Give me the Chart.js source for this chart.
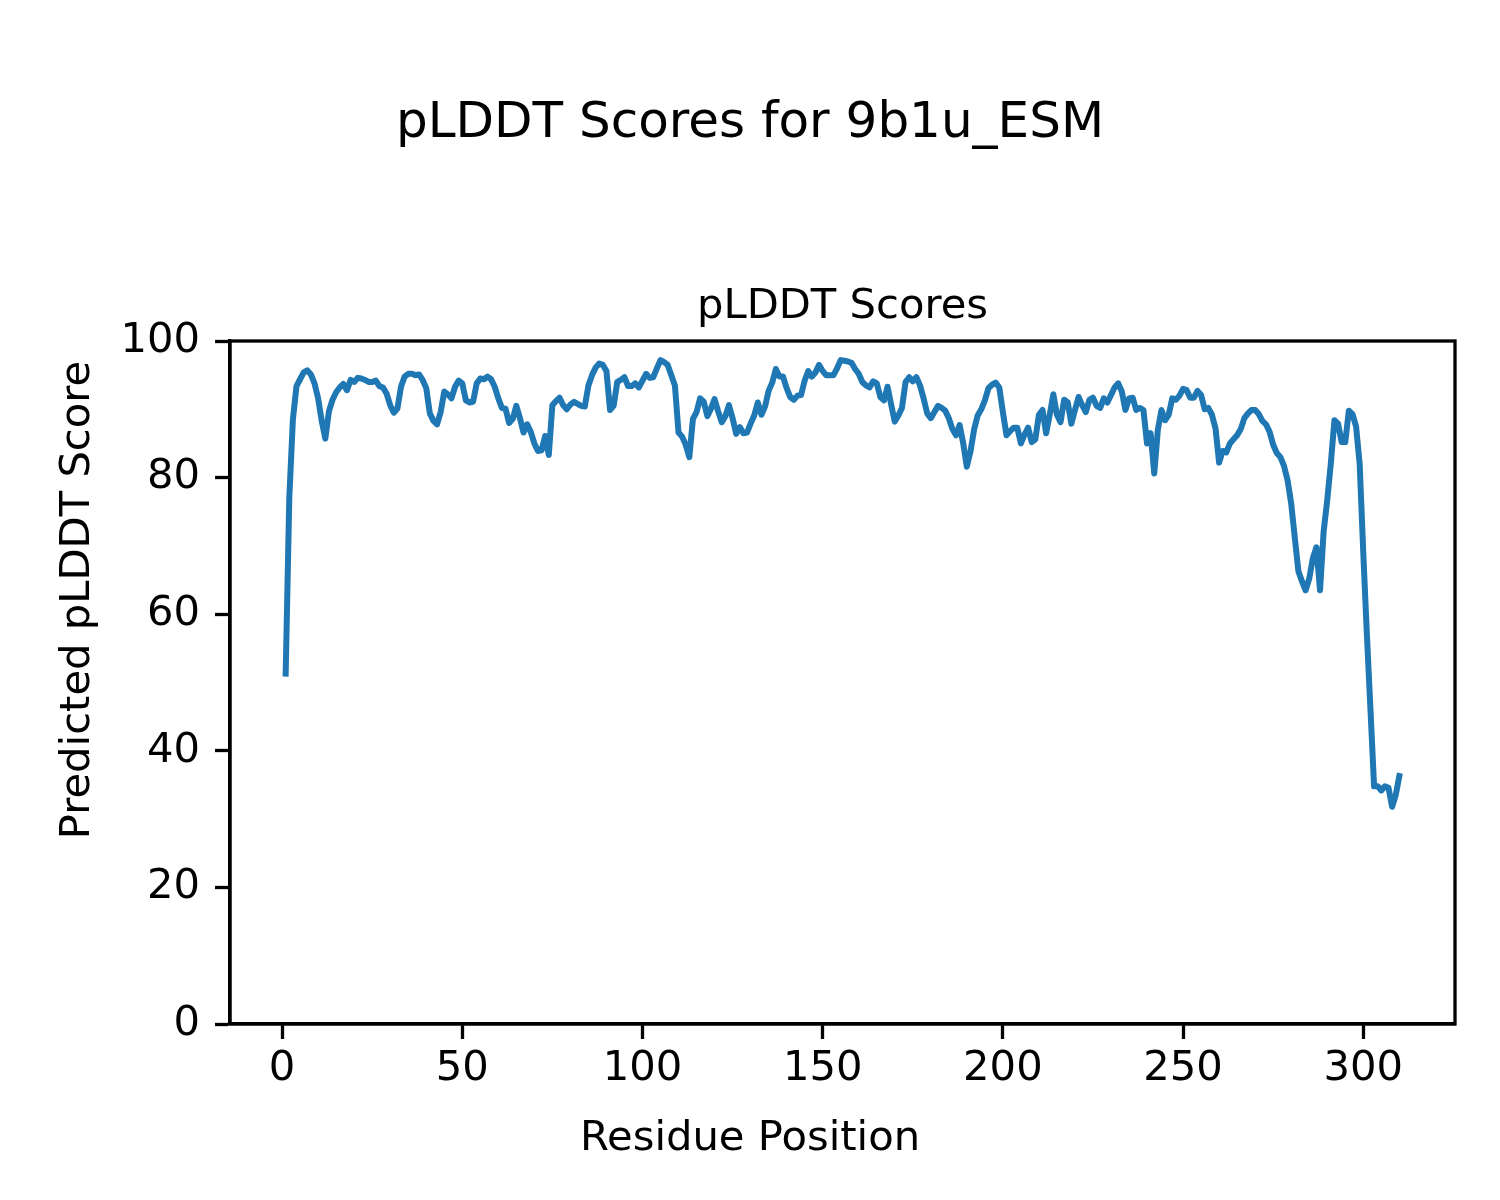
<!DOCTYPE html>
<html>
<head>
<meta charset="utf-8">
<script src="https://cdn.jsdelivr.net/npm/chart.js@4.4.1/dist/chart.umd.min.js"></script>
<style>
  html, body { margin: 0; padding: 0; background: #ffffff; }
  #wrap { width: 1500px; height: 1200px; }
</style>
</head>
<body>
<div id="wrap"><canvas id="c" width="1500" height="1200"></canvas></div>
<script>
// ---- Data ----
const plddt = [
  51.3, 77.0, 88.5, 93.4, 94.4, 95.4, 95.7, 95.1, 93.8, 91.6,
  88.3, 85.7, 89.7, 91.4, 92.5, 93.2, 93.7, 92.8, 94.3, 94.0,
  94.6, 94.5, 94.3, 94.0, 94.0, 94.2, 93.4, 93.2, 92.3, 90.6,
  89.5, 90.1, 93.3, 94.8, 95.2, 95.2, 95.0, 95.1, 94.3, 93.1,
  89.4, 88.3, 87.8, 89.6, 92.6, 92.2, 91.6, 93.3, 94.2, 93.8,
  91.3, 91.0, 91.1, 93.8, 94.5, 94.4, 94.8, 94.4, 93.3, 91.6,
  90.2, 90.1, 88.0, 88.6, 90.5, 88.7, 86.6, 87.8, 86.7, 85.0,
  83.9, 84.0, 86.1, 83.3, 90.6, 91.2, 91.7, 90.6, 90.0, 90.7,
  91.1, 90.8, 90.5, 90.4, 93.5, 95.0, 96.1, 96.7, 96.5, 95.6,
  89.9, 90.5, 94.0, 94.3, 94.7, 93.4, 93.4, 93.8, 93.2, 94.2,
  95.2, 94.6, 94.7, 96.0, 97.2, 96.9, 96.5, 95.0, 93.5, 86.6,
  86.0, 84.8, 83.0, 88.6, 89.6, 91.6, 91.1, 89.0, 90.1, 91.5,
  89.7, 88.1, 89.0, 90.6, 88.7, 86.4, 87.4, 86.5, 86.6, 87.9,
  89.1, 91.0, 89.2, 90.4, 92.7, 93.9, 95.9, 94.8, 94.8, 93.1,
  91.8, 91.4, 92.0, 92.1, 94.2, 95.6, 94.8, 95.4, 96.5, 95.6,
  95.0, 95.0, 95.0, 96.0, 97.2, 97.1, 97.0, 96.8, 95.9, 95.2,
  94.0, 93.5, 93.2, 94.1, 93.8, 91.8, 91.3, 93.3, 90.7, 88.2,
  89.1, 90.2, 94.0, 94.7, 94.1, 94.7, 93.5, 91.6, 89.4, 88.7,
  89.6, 90.5, 90.2, 89.8, 88.7, 87.1, 86.2, 87.7, 85.0, 81.6,
  83.8, 87.0, 89.1, 90.0, 91.3, 93.1, 93.6, 93.9, 93.2, 89.6,
  86.2, 86.8, 87.3, 87.3, 85.0, 86.3, 87.3, 85.2, 85.6, 89.2,
  89.9, 86.5, 89.2, 92.2, 89.2, 88.1, 91.4, 91.0, 87.9, 89.9,
  91.8, 90.6, 89.6, 91.4, 91.7, 90.5, 90.2, 91.6, 91.0, 92.1,
  93.2, 93.8, 92.6, 89.9, 91.6, 91.7, 89.9, 90.2, 89.9, 85.0,
  86.5, 80.6, 87.0, 89.9, 88.4, 89.2, 91.6, 91.4, 92.0, 93.0,
  92.8, 91.7, 91.7, 92.7, 92.1, 90.0, 90.2, 89.2, 87.2, 82.2,
  83.9, 83.7, 85.0, 85.6, 86.2, 87.1, 88.7, 89.4, 89.9, 89.9,
  89.3, 88.3, 87.8, 86.7, 84.8, 83.6, 83.0, 81.7, 79.6, 76.2,
  71.2, 66.3, 64.8, 63.5, 65.2, 68.2, 69.8, 63.5, 72.1, 76.7,
  82.1, 88.4, 87.9, 85.2, 85.2, 89.8, 89.3, 87.5, 82.0, 69.0,
  57.0, 46.0, 34.8, 34.8, 34.2, 34.8, 34.6, 31.8, 33.5, 36.3
];
const residues = plddt.map((_, i) => i + 1);
const xTicks = [0, 50, 100, 150, 200, 250, 300];
const yTicks = [0, 20, 40, 60, 80, 100];
const figTitle = 'pLDDT Scores for 9b1u_ESM';
const axesTitle = 'pLDDT Scores';
const xLabel = 'Residue Position';
const yLabel = 'Predicted pLDDT Score';

// ---- Chart ----
const FONT = 'DejaVu Sans';
Chart.defaults.font.family = FONT;
Chart.defaults.color = '#000000';

// Figure-level texts (suptitle, axes title, figure-centred axis labels) and the box frame
const framePlugin = {
  id: 'frameAndTitles',
  afterDraw(chart) {
    const ctx = chart.ctx;
    const a = chart.chartArea;
    ctx.save();
    ctx.strokeStyle = '#000000';
    ctx.lineWidth = 3.3;
    ctx.strokeRect(a.left, a.top, a.right - a.left, a.bottom - a.top);
    ctx.fillStyle = '#000000';
    ctx.textAlign = 'center';
    ctx.textBaseline = 'alphabetic';
    ctx.font = '50px "' + FONT + '"';
    ctx.fillText(figTitle, chart.width / 2, 137);
    ctx.font = '41.7px "' + FONT + '"';
    ctx.fillText(axesTitle, (a.left + a.right) / 2, 318);
    // x label, centred on the figure
    ctx.textBaseline = 'middle';
    ctx.fillText(xLabel, chart.width / 2, 1139);
    // y label, rotated, centred on the figure
    ctx.translate(78, chart.height / 2);
    ctx.rotate(-Math.PI / 2);
    ctx.fillText(yLabel, 0, 0);
    ctx.restore();
  }
};

const bgPlugin = {
  id: 'bg',
  beforeDraw(chart) {
    const ctx = chart.ctx;
    ctx.save();
    ctx.fillStyle = '#ffffff';
    ctx.fillRect(0, 0, chart.width, chart.height);
    ctx.restore();
  }
};

new Chart(document.getElementById('c'), {
  type: 'line',
  data: {
    datasets: [{
      data: residues.map((r, i) => ({ x: r, y: plddt[i] })),
      borderColor: '#1f77b4',
      borderWidth: 6,
      pointRadius: 0,
      tension: 0,
      fill: false,
      borderJoinStyle: 'round',
      borderCapStyle: 'square'
    }]
  },
  options: {
    responsive: false,
    animation: false,
    devicePixelRatio: 1,
    layout: { padding: { left: 0, right: 45, top: 341, bottom: 0 } },
    plugins: {
      legend: { display: false },
      tooltip: { enabled: false },
      title: { display: false }
    },
    scales: {
      x: {
        type: 'linear',
        min: -14.45,
        max: 325.45,
        afterBuildTicks: s => { s.ticks = xTicks.map(v => ({ value: v })); },
        afterFit: s => { s.height = 176; },
        grid: { drawOnChartArea: false, drawTicks: true, tickLength: 15, tickWidth: 3.3, tickColor: '#000000' },
        border: { display: true, color: '#000000', width: 3.3 },
        ticks: { color: '#000000', font: { size: 41.7 }, padding: 5, maxRotation: 0, autoSkip: false },
        title: { display: false, text: xLabel }
      },
      y: {
        type: 'linear',
        min: 0,
        max: 100,
        afterBuildTicks: s => { s.ticks = yTicks.map(v => ({ value: v })); },
        afterFit: s => { s.width = 230; },
        grid: { drawOnChartArea: false, drawTicks: true, tickLength: 15, tickWidth: 3.3, tickColor: '#000000' },
        border: { display: true, color: '#000000', width: 3.3 },
        ticks: { color: '#000000', font: { size: 41.7 }, padding: 15, autoSkip: false },
        title: { display: false, text: yLabel }
      }
    }
  },
  plugins: [bgPlugin, framePlugin]
});
</script>
</body>
</html>
